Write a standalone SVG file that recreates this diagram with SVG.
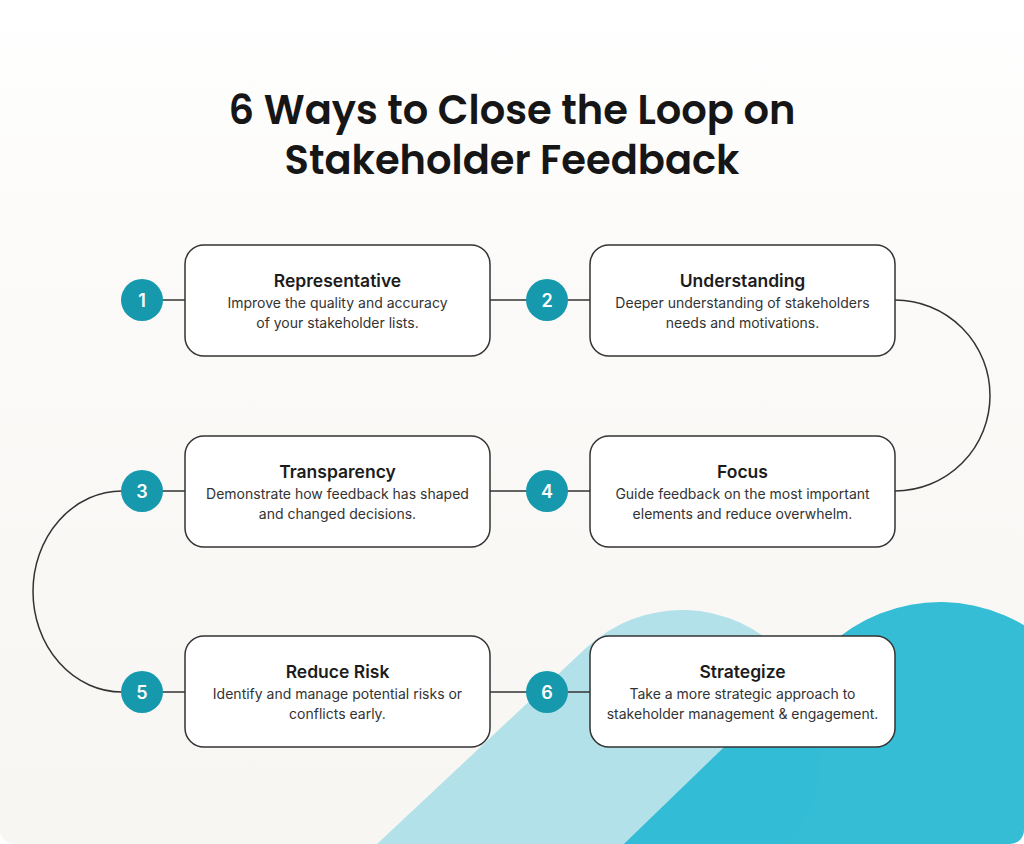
<svg xmlns="http://www.w3.org/2000/svg" width="1024" height="844" viewBox="0 0 1024 844">
<defs>
<linearGradient id="bg" x1="0" y1="0" x2="0" y2="1">
<stop offset="0" stop-color="#ffffff"/>
<stop offset="0.35" stop-color="#fbfaf8"/>
<stop offset="1" stop-color="#f8f6f3"/>
</linearGradient>
<clipPath id="card"><rect x="0" y="0" width="1024" height="844" rx="14"/></clipPath>
<style>
.box{fill:#ffffff;stroke:#333333;stroke-width:1.5}
.num{fill:#1698ad}
.numt{fill:#ffffff;font-family:Inter,"Liberation Sans",sans-serif;font-weight:600;font-size:18px;text-anchor:middle}
.ttl{fill:#1c1c1c;font-family:Inter,"Liberation Sans",sans-serif;font-weight:600;font-size:17.5px;text-anchor:middle}
.txt{fill:#333333;font-family:Inter,"Liberation Sans",sans-serif;font-weight:400;font-size:14px;text-anchor:middle}
.con{fill:none;stroke:#333333;stroke-width:1.5}
.head{fill:#161616;font-family:Poppins,Inter,"Liberation Sans",sans-serif;font-weight:600;font-size:40px;text-anchor:middle}
</style>
</defs>
<rect width="1024" height="844" fill="#ffffff"/>
<g clip-path="url(#card)">
<rect width="1024" height="844" fill="url(#bg)"/>
<line x1="682" y1="750" x2="202" y2="1200" stroke="#b2e1e9" stroke-width="280" stroke-linecap="round"/>
<line x1="940" y1="765" x2="480" y2="1210" stroke="#2dbbd4" stroke-width="326" stroke-linecap="round" stroke-opacity="0.97"/>
</g>
<g id="title">
<text class="head" x="512" y="124">6 Ways to Close the Loop on</text>
<text class="head" x="512" y="174">Stakeholder Feedback</text>
</g>
<g id="connectors">
<line class="con" x1="142" y1="300" x2="185" y2="300"/>
<line class="con" x1="490" y1="300" x2="590" y2="300"/>
<path class="con" d="M895 300 A95 95.5 0 0 1 895 491"/>
<line class="con" x1="490" y1="491" x2="590" y2="491"/>
<line class="con" x1="142" y1="491" x2="185" y2="491"/>
<path class="con" d="M122 491 A89 100.5 0 0 0 122 692"/>
<line class="con" x1="142" y1="692" x2="185" y2="692"/>
<line class="con" x1="490" y1="692" x2="590" y2="692"/>
</g>
<g id="node1">
<rect class="box" x="185" y="245" width="305" height="111" rx="19"/>
<text class="ttl" x="337.5" y="287">Representative</text>
<text class="txt" x="337.5" y="308">Improve the quality and accuracy</text>
<text class="txt" x="337.5" y="328">of your stakeholder lists.</text>
<circle class="num" cx="142" cy="300" r="21"/>
<text class="numt" x="142" y="306.5">1</text>
</g>
<g id="node2">
<rect class="box" x="590" y="245" width="305" height="111" rx="19"/>
<text class="ttl" x="742.5" y="287">Understanding</text>
<text class="txt" x="742.5" y="308">Deeper understanding of stakeholders</text>
<text class="txt" x="742.5" y="328">needs and motivations.</text>
<circle class="num" cx="547" cy="300" r="21"/>
<text class="numt" x="547" y="306.5">2</text>
</g>
<g id="node3">
<rect class="box" x="185" y="436" width="305" height="111" rx="19"/>
<text class="ttl" x="337.5" y="478">Transparency</text>
<text class="txt" x="337.5" y="499">Demonstrate how feedback has shaped</text>
<text class="txt" x="337.5" y="519">and changed decisions.</text>
<circle class="num" cx="142" cy="491" r="21"/>
<text class="numt" x="142" y="497.5">3</text>
</g>
<g id="node4">
<rect class="box" x="590" y="436" width="305" height="111" rx="19"/>
<text class="ttl" x="742.5" y="478">Focus</text>
<text class="txt" x="742.5" y="499">Guide feedback on the most important</text>
<text class="txt" x="742.5" y="519">elements and reduce overwhelm.</text>
<circle class="num" cx="547" cy="491" r="21"/>
<text class="numt" x="547" y="497.5">4</text>
</g>
<g id="node5">
<rect class="box" x="185" y="636" width="305" height="111" rx="19"/>
<text class="ttl" x="337.5" y="678">Reduce Risk</text>
<text class="txt" x="337.5" y="699">Identify and manage potential risks or</text>
<text class="txt" x="337.5" y="719">conflicts early.</text>
<circle class="num" cx="142" cy="692" r="21"/>
<text class="numt" x="142" y="698.5">5</text>
</g>
<g id="node6">
<rect class="box" x="590" y="636" width="305" height="111" rx="19"/>
<text class="ttl" x="742.5" y="678">Strategize</text>
<text class="txt" x="742.5" y="699">Take a more strategic approach to</text>
<text class="txt" x="742.5" y="719">stakeholder management &amp; engagement.</text>
<circle class="num" cx="547" cy="692" r="21"/>
<text class="numt" x="547" y="698.5">6</text>
</g>
</svg>
